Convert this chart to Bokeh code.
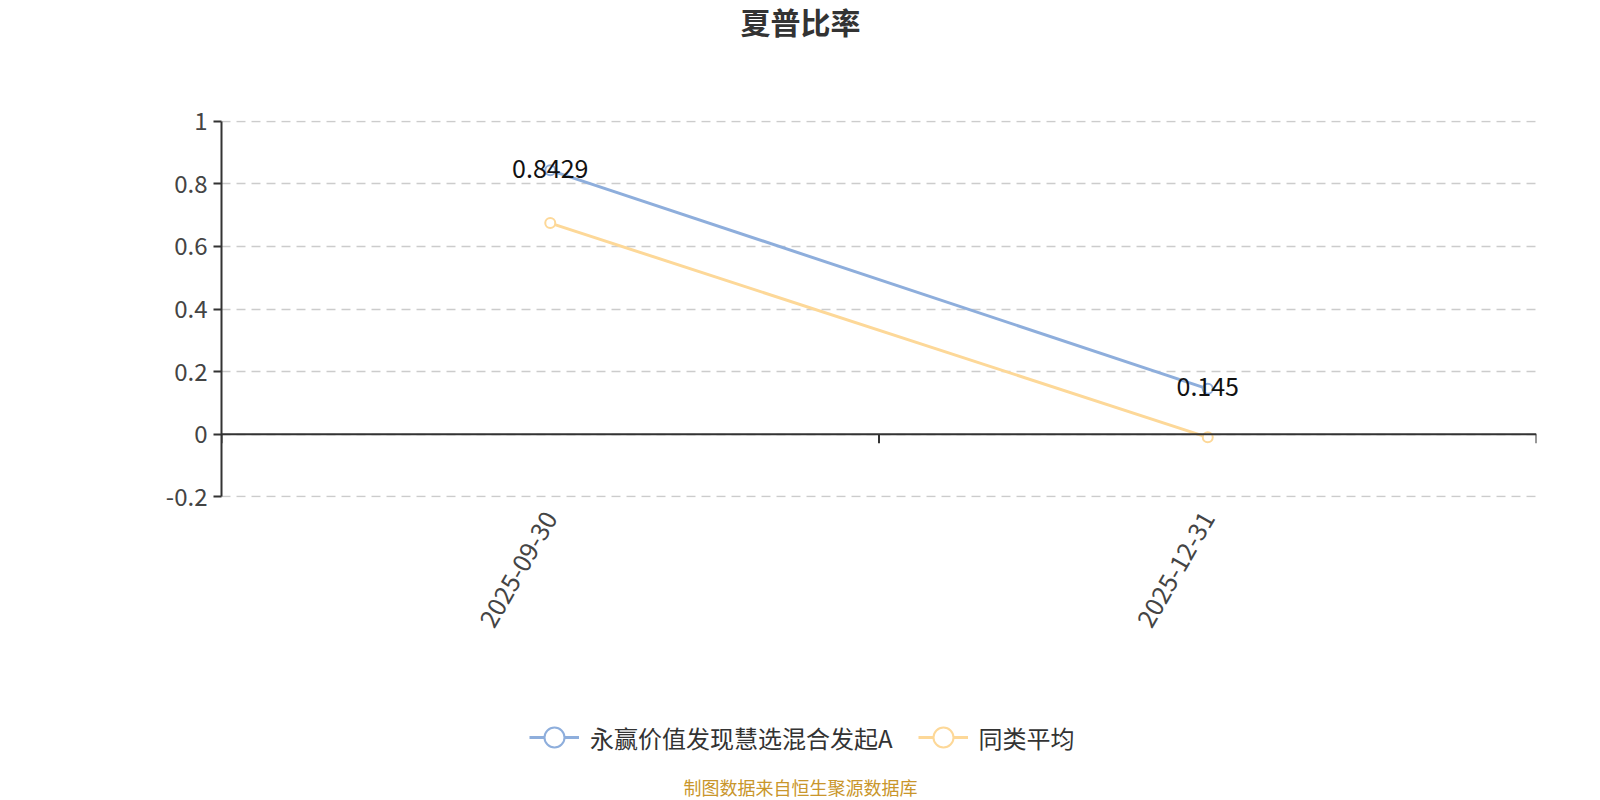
import math
from bokeh.plotting import figure
from bokeh.layouts import column
from bokeh.models import (
    ColumnDataSource, Range1d, FixedTicker, Span, Legend, LegendItem, Label
)
from bokeh.core.properties import value
from bokeh.embed import file_html
from bokeh.resources import INLINE

# data
dates = ["2025-09-30", "2025-12-31"]
fund_name = "永赢价值发现慧选混合发起A"
fund_sharpe = [0.8429, 0.145]
avg_name = "同类平均"
avg_sharpe = [0.6743, -0.0098]
yticks = [-0.2, 0, 0.2, 0.4, 0.6, 0.8, 1]
ytick_labels = ["-0.2", "0", "0.2", "0.4", "0.6", "0.8", "1"]
title_text = "夏普比率"
source_text = "制图数据来自恒生聚源数据库"

FONT = "Noto Sans CJK SC"
BLUE = "#8eaedc"
YELLOW = "#fdd898"

W = 1600
HEAD_H, MAIN_H, FOOT_H = 50, 610, 140
LEFT, RIGHT, TOP, BOTTOM = 221, 64, 70, 163
# the column lines up all frames with the main one, so the page centre
# is expressed as a fraction of that frame
page_mid = (W / 2 - LEFT) / (W - LEFT - RIGHT)
# tiny pad so the grid draws its first and last dashed line too
EPS = 0.002

xs = [i + 0.5 for i in range(len(dates))]
src = ColumnDataSource(dict(
    x=xs,
    fund=fund_sharpe,
    avg=avg_sharpe,
    lbl=[str(v) for v in fund_sharpe],
))


def blank(height):
    f = figure(width=W, height=height, x_range=Range1d(0, 1), y_range=Range1d(0, 1),
               output_backend="svg", toolbar_location=None,
               x_axis_location=None, y_axis_location=None, min_border=0)
    f.outline_line_color = None
    f.grid.grid_line_color = None
    return f


# header with the title
head = blank(HEAD_H)
head.add_layout(Label(x=page_mid, y=0.6, text=title_text, text_align="center",
                      text_baseline="middle", text_font=FONT, text_font_size="30px",
                      text_font_style="bold", text_color="#333333"))

# main chart
p = figure(
    width=W, height=MAIN_H,
    x_range=Range1d(0, len(dates)),
    y_range=Range1d(yticks[0] - EPS, yticks[-1] + EPS),
    output_backend="svg",
    toolbar_location=None,
    min_border_left=LEFT, min_border_right=RIGHT,
    min_border_top=TOP, min_border_bottom=BOTTOM,
)
p.outline_line_color = None

p.yaxis.ticker = FixedTicker(ticks=yticks)
p.yaxis.bounds = (yticks[0], yticks[-1])
p.yaxis.major_label_overrides = dict(zip(yticks, ytick_labels))
p.yaxis.axis_line_color = "#333333"
p.yaxis.axis_line_width = 2
p.yaxis.major_tick_line_color = "#333333"
p.yaxis.major_tick_line_width = 2
p.yaxis.major_tick_out = 8
p.yaxis.major_tick_in = 0
p.yaxis.minor_tick_line_color = None
p.yaxis.major_label_text_font = FONT
p.yaxis.major_label_text_font_size = "24px"
p.yaxis.major_label_text_color = "#444444"
p.yaxis.major_label_standoff = 6

p.xaxis.ticker = FixedTicker(ticks=xs)
p.xaxis.major_label_overrides = dict(zip(xs, dates))
p.xaxis.axis_line_color = None
p.xaxis.major_tick_line_color = None
p.xaxis.minor_tick_line_color = None
p.xaxis.major_label_orientation = math.pi / 3
p.xaxis.major_label_text_font = FONT
p.xaxis.major_label_text_font_size = "25px"
p.xaxis.major_label_text_color = "#444444"
p.xaxis.major_label_standoff = 10

p.xgrid.grid_line_color = None
p.ygrid.grid_line_color = "#cccccc"
p.ygrid.grid_line_width = 1.5
p.ygrid.grid_line_dash = "9 6"

# zero line with category boundary ticks
p.add_layout(Span(location=0, dimension="width", line_color="#333333", line_width=2))
px_per_unit = (MAIN_H - TOP - BOTTOM) / (yticks[-1] - yticks[0])
bounds = list(range(len(dates) + 1))
tick_len = 9 / px_per_unit
p.segment(x0=bounds, y0=[0] * len(bounds), x1=bounds, y1=[-tick_len] * len(bounds),
          line_color="#333333", line_width=2)

line_kw = dict(line_width=3)
mark_kw = dict(size=10, fill_color="white", line_width=2)
p.line("x", "fund", source=src, line_color=BLUE, **line_kw)
p.scatter("x", "fund", source=src, line_color=BLUE, **mark_kw)
p.line("x", "avg", source=src, line_color=YELLOW, **line_kw)
p.scatter("x", "avg", source=src, line_color=YELLOW, **mark_kw)

p.text("x", "fund", text="lbl", source=src, text_align="center",
       text_baseline="middle", y_offset=-2, text_font=value(FONT),
       text_font_size="25px", text_color="#111111")

# footer with legend and data source
foot = blank(FOOT_H)
lg = []
for col, name in ((BLUE, "fund"), (YELLOW, "avg")):
    l = foot.line("x", name, source=src, line_color=col, visible=False, **line_kw)
    m = foot.scatter("x", name, source=src, line_color=col, visible=False, **mark_kw)
    lg.append([l, m])

legend = Legend(
    items=[
        LegendItem(label=fund_name, renderers=lg[0]),
        LegendItem(label=avg_name, renderers=lg[1]),
    ],
    orientation="horizontal",
    location=(529 - LEFT, 38),
    glyph_width=50, glyph_height=50,
    label_standoff=11, spacing=25, padding=0, margin=0,
    label_text_font=FONT, label_text_font_size="24px",
    label_text_color="#333333",
    border_line_color=None, background_fill_alpha=0,
)
foot.add_layout(legend, "center")

foot.add_layout(Label(x=page_mid, y=0.1, text=source_text, text_align="center",
                      text_baseline="middle", text_font=FONT, text_font_size="18px",
                      text_color="#c9962b"))

open("out.html", "w").write(file_html(column(head, p, foot, spacing=0), INLINE))
